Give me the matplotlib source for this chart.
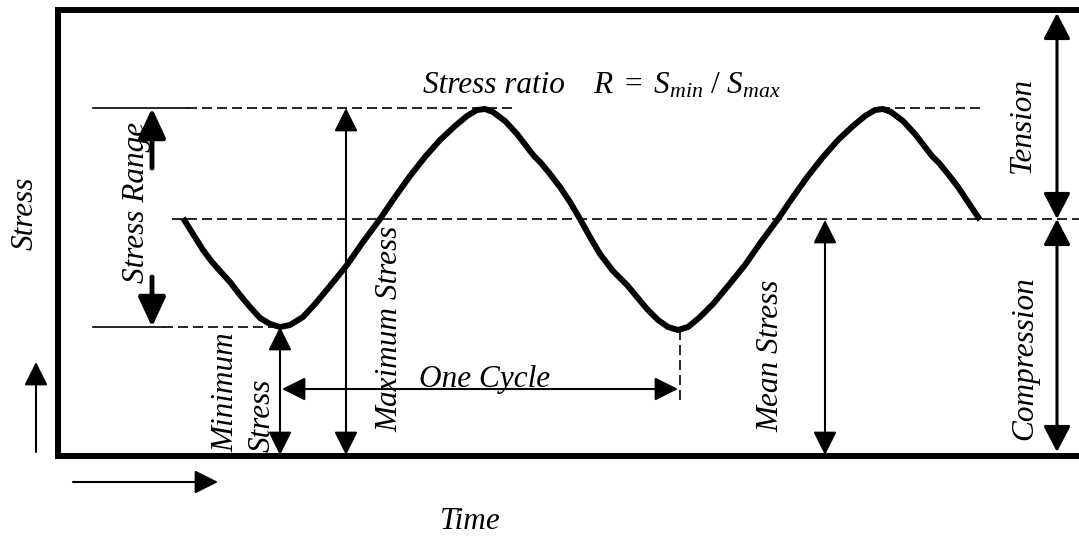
import matplotlib
matplotlib.use("Agg")
import matplotlib.pyplot as plt
from matplotlib.patches import Rectangle

# ---- data (pixel-space diagram coordinates, y downward) ----
curve_x = [183, 193, 203, 212, 220, 230, 240, 250, 260, 270, 280, 290, 303, 315, 330, 347,
           363, 380, 395, 410, 425, 440, 455, 467, 477, 485, 493, 505, 517, 527, 534, 541,
           550, 560, 570, 580, 590, 600, 613, 627, 637, 647, 658, 668, 678, 688, 700, 713,
           728, 745, 761, 778, 793, 808, 823, 838, 853, 865, 875, 883, 891, 903, 915, 925,
           932, 939, 948, 958, 968, 980]
curve_y = [218, 234, 250, 262, 271, 282, 295, 307, 318, 324, 327, 325, 317, 304, 286, 265,
           242, 219, 197, 176, 157, 140, 126, 116, 110, 109, 112, 121, 134, 147, 156, 163,
           174, 187, 202, 219, 237, 254, 271, 285, 297, 309, 320, 327, 330, 327, 317, 304,
           286, 265, 242, 219, 197, 176, 157, 140, 126, 116, 110, 109, 112, 121, 134, 147,
           156, 163, 174, 187, 202, 220]

levels = {"max": 108, "mean": 219, "min": 327, "top": 10, "bottom": 456}
labels_rot = ["Stress", "Stress Range", "Minimum", "Stress", "Maximum Stress",
              "Mean Stress", "Tension", "Compression"]
label_title = "Stress ratio"
label_formula = r"$R\ =\ S_{min}\ /\ S_{max}$"
label_cycle = "One Cycle"
label_time = "Time"

W, H = 1079, 537
fig = plt.figure(figsize=(W / 100, H / 100), dpi=100)
ax = fig.add_axes([0, 0, 1, 1])
ax.set_xlim(0, W)
ax.set_ylim(H, 0)
ax.axis("off")

plt.rcParams["mathtext.fontset"] = "custom"
plt.rcParams["mathtext.rm"] = "Liberation Serif"
plt.rcParams["mathtext.it"] = "Liberation Serif:italic"

FONT = dict(family="Liberation Serif", style="italic", size=22.5, color="black")

# frame (open on the right, like the reference)
ax.plot([1100, 58, 58, 1100],
        [levels["top"], levels["top"], levels["bottom"], levels["bottom"]],
        color="black", lw=4.3, solid_joinstyle="miter", solid_capstyle="butt")

# reference lines
dash = dict(color="black", lw=1.2, dashes=(6, 3))
solid = dict(color="black", lw=1.2)
ax.plot([93, 187], [levels["max"]] * 2, **solid)
ax.plot([187, 513], [levels["max"]] * 2, **dash)
ax.plot([880, 980], [levels["max"]] * 2, **dash)
ax.plot([172, 1079], [levels["mean"]] * 2, **dash)
ax.plot([93, 163], [levels["min"]] * 2, **solid)
ax.plot([163, 280], [levels["min"]] * 2, **dash)
ax.plot([680, 680], [330, 403], **dash)

# curve
ax.plot(curve_x, curve_y, color="black", lw=4.3, solid_joinstyle="round",
        solid_capstyle="butt")


def arrow(p_from, p_to, style="-|>", lw=1.5, hl=14.4, hw=7.2):
    ax.annotate("", xy=p_to, xytext=p_from,
                arrowprops=dict(arrowstyle=f"{style},head_length={hl},head_width={hw}",
                                mutation_scale=1, lw=lw, color="black",
                                shrinkA=0, shrinkB=0))


# stress range arrows
arrow((152, 168), (152, levels["max"]), lw=3.5, hl=18, hw=8.3)
arrow((152, 277), (152, levels["min"]), lw=3.5, hl=18, hw=8.3)
# maximum stress
arrow((346, levels["bottom"] - 1), (346, levels["max"]), style="<|-|>")
# minimum stress
arrow((280, levels["bottom"] - 1), (280, levels["min"]), style="<|-|>")
# one cycle
arrow((282, 389), (678, 389), style="<|-|>")
# mean stress
arrow((825, levels["bottom"] - 1), (825, levels["mean"] + 1), style="<|-|>")
# tension / compression
arrow((1057, 13), (1057, levels["mean"]), style="<|-|>", lw=2.2, hl=16, hw=8.3)
arrow((1057, levels["mean"]), (1057, 452), style="<|-|>", lw=2.2, hl=16, hw=8.3)
# axis direction arrows
arrow((36, 452), (36, 362))
arrow((73, 482), (218, 482))

# rotated texts: (x baseline, y start)
rot_pos = [(33, 250), (144, 283), (233, 452), (270, 452), (397, 432),
           (778, 432), (1030, 173), (1032, 440)]
for lab, (x, y) in zip(labels_rot, rot_pos):
    t = ax.text(x, y, lab, rotation=90, rotation_mode="anchor", ha="left",
                va="baseline", **FONT)
    if lab == "Stress Range":
        clip = Rectangle((100, 0), 45, 537, transform=ax.transData)
        t.set_clip_path(clip)

ax.text(423, 93, label_title, ha="left", va="baseline", **FONT)
ax.text(593, 93, label_formula, ha="left", va="baseline", **FONT)
ax.text(419, 387, label_cycle, ha="left", va="baseline", **FONT)
ax.text(440, 529, label_time, ha="left", va="baseline", **FONT)

fig.savefig("out.png", dpi=100)
